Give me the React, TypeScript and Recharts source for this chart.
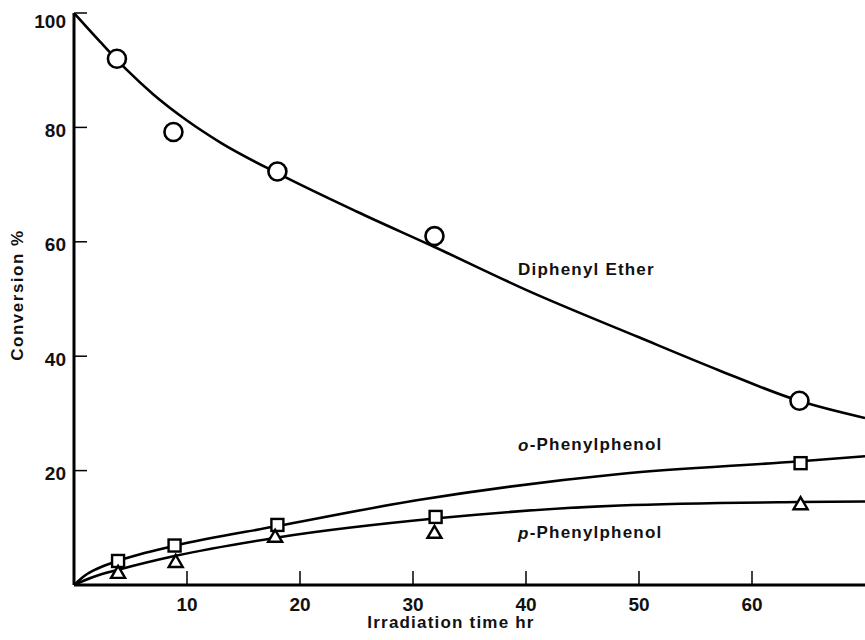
import React from 'react';
import { ComposedChart, Line, Scatter, XAxis, YAxis, ReferenceDot, Label } from 'recharts';

// fitted curves
const etherCurveX = [0, 2.3, 4.7, 7, 10, 13, 18, 25, 32, 40, 50, 57, 64, 70];
const etherCurveY = [100, 95, 90, 85.8, 81.2, 77.3, 72, 65.3, 59, 51.6, 43.3, 37.6, 32.3, 29.2];
const orthoCurveX = [0, 1, 2, 4, 9, 18, 30.6, 48.3, 64, 70];
const orthoCurveY = [0, 1.7, 2.8, 4.3, 6.9, 10.3, 14.9, 19.4, 21.6, 22.5];
const paraCurveX = [0, 1.7, 4, 9, 18, 32.4, 48.3, 64, 70];
const paraCurveY = [0, 1.4, 2.7, 5.1, 8.3, 11.7, 13.9, 14.5, 14.6];

// measured points
const etherX = [3.8, 8.8, 18, 31.9, 64.2];
const etherY = [92, 79.2, 72.3, 61, 32.2];
const orthoX = [3.9, 8.9, 18, 32, 64.3];
const orthoY = [4.2, 6.9, 10.5, 11.9, 21.3];
const paraX = [3.9, 9, 17.8, 31.9, 64.3];
const paraY = [2.3, 4.2, 8.6, 9.3, 14.3];

const xTicks = [10, 20, 30, 40, 50, 60];
const yTicks = [20, 40, 60, 80, 100];

const toRows = (xs: number[], ys: number[]) => xs.map((x, i) => ({ x, y: ys[i] }));

const FONT = '"Liberation Sans", Arial, sans-serif';

const XTick = (props: any) => {
  const { x, y, payload } = props;
  return (
    <g>
      <line x1={x} x2={x} y1={y} y2={y - 14} stroke="#000" strokeWidth={1.5} />
      <text x={x} y={y + 19} textAnchor="middle" dominantBaseline="central" fontSize={19} fontWeight="bold" fontFamily={FONT} fill="#111">
        {payload.value}
      </text>
    </g>
  );
};

const YTick = (props: any) => {
  const { x, y, payload } = props;
  const dy = payload.value === 100 ? 8 : 3;
  return (
    <g>
      <line x1={x} x2={x + 13} y1={y} y2={y} stroke="#000" strokeWidth={1.5} />
      <text x={x - 8} y={y + dy} textAnchor="end" dominantBaseline="central" fontSize={19} fontWeight="bold" fontFamily={FONT} fill="#111">
        {payload.value}
      </text>
    </g>
  );
};

const Circle = (props: any) => <circle cx={props.cx} cy={props.cy} r={9} fill="#fff" stroke="#000" strokeWidth={2.6} />;
const Square = (props: any) => <rect x={props.cx - 6} y={props.cy - 6} width={12} height={12} fill="#fff" stroke="#000" strokeWidth={2.4} />;
const Triangle = (props: any) => (
  <polygon
    points={`${props.cx},${props.cy - 6} ${props.cx - 7},${props.cy + 6} ${props.cx + 7},${props.cy + 6}`}
    fill="#fff"
    stroke="#000"
    strokeWidth={2.4}
  />
);

const curveLabel = (main: string, prefix?: string) => (p: any) => {
  const { viewBox } = p;
  return (
    <text x={viewBox.x} y={viewBox.y} dominantBaseline="central" fontSize={17} fontWeight="bold" letterSpacing={1.2} fontFamily={FONT} fill="#111">
      {prefix && <tspan fontStyle="italic">{prefix}</tspan>}
      {main}
    </text>
  );
};

export default function App() {
  return (
    <div style={{ position: 'absolute', left: 0, top: 0, width: 865, height: 640, background: '#fff' }}>
      <ComposedChart width={865} height={640} margin={{ top: 13, right: 0, bottom: 0, left: 0 }}>
        <XAxis
          type="number"
          dataKey="x"
          domain={[0, 70]}
          ticks={xTicks}
          allowDataOverflow
          height={55}
          tickSize={0}
          tickMargin={0}
          tickLine={false}
          tick={<XTick />}
          axisLine={{ stroke: '#000', strokeWidth: 3 }}
        >
          <Label
            content={() => (
              <text x={451} y={622} textAnchor="middle" dominantBaseline="central" fontSize={17} fontWeight="bold" letterSpacing={1.2} fontFamily={FONT} fill="#111">
                Irradiation time hr
              </text>
            )}
          />
        </XAxis>
        <YAxis
          type="number"
          dataKey="y"
          domain={[0, 100]}
          ticks={yTicks}
          allowDataOverflow
          width={74}
          tickSize={0}
          tickMargin={0}
          tickLine={false}
          tick={<YTick />}
          axisLine={{ stroke: '#000', strokeWidth: 3 }}
        >
          <Label
            content={() => (
              <text x={17} y={295} transform="rotate(-90 17 295)" textAnchor="middle" dominantBaseline="central" fontSize={17} fontWeight="bold" letterSpacing={1.5} fontFamily={FONT} fill="#111">
                Conversion %
              </text>
            )}
          />
        </YAxis>

        <Line data={toRows(etherCurveX, etherCurveY)} dataKey="y" type="monotone" stroke="#000" strokeWidth={2.6} dot={false} isAnimationActive={false} />
        <Line data={toRows(orthoCurveX, orthoCurveY)} dataKey="y" type="monotone" stroke="#000" strokeWidth={2.6} dot={false} isAnimationActive={false} />
        <Line data={toRows(paraCurveX, paraCurveY)} dataKey="y" type="monotone" stroke="#000" strokeWidth={2.6} dot={false} isAnimationActive={false} />

        <Scatter data={toRows(etherX, etherY)} dataKey="y" shape={<Circle />} isAnimationActive={false} />
        <Scatter data={toRows(orthoX, orthoY)} dataKey="y" shape={<Square />} isAnimationActive={false} />
        <Scatter data={toRows(paraX, paraY)} dataKey="y" shape={<Triangle />} isAnimationActive={false} />

        <ReferenceDot x={39.3} y={55.1} r={0} ifOverflow="visible" label={curveLabel('Diphenyl Ether')} />
        <ReferenceDot x={39.3} y={24.5} r={0} ifOverflow="visible" label={curveLabel('-Phenylphenol', 'o')} />
        <ReferenceDot x={39.3} y={9.1} r={0} ifOverflow="visible" label={curveLabel('-Phenylphenol', 'p')} />
      </ComposedChart>
    </div>
  );
}
